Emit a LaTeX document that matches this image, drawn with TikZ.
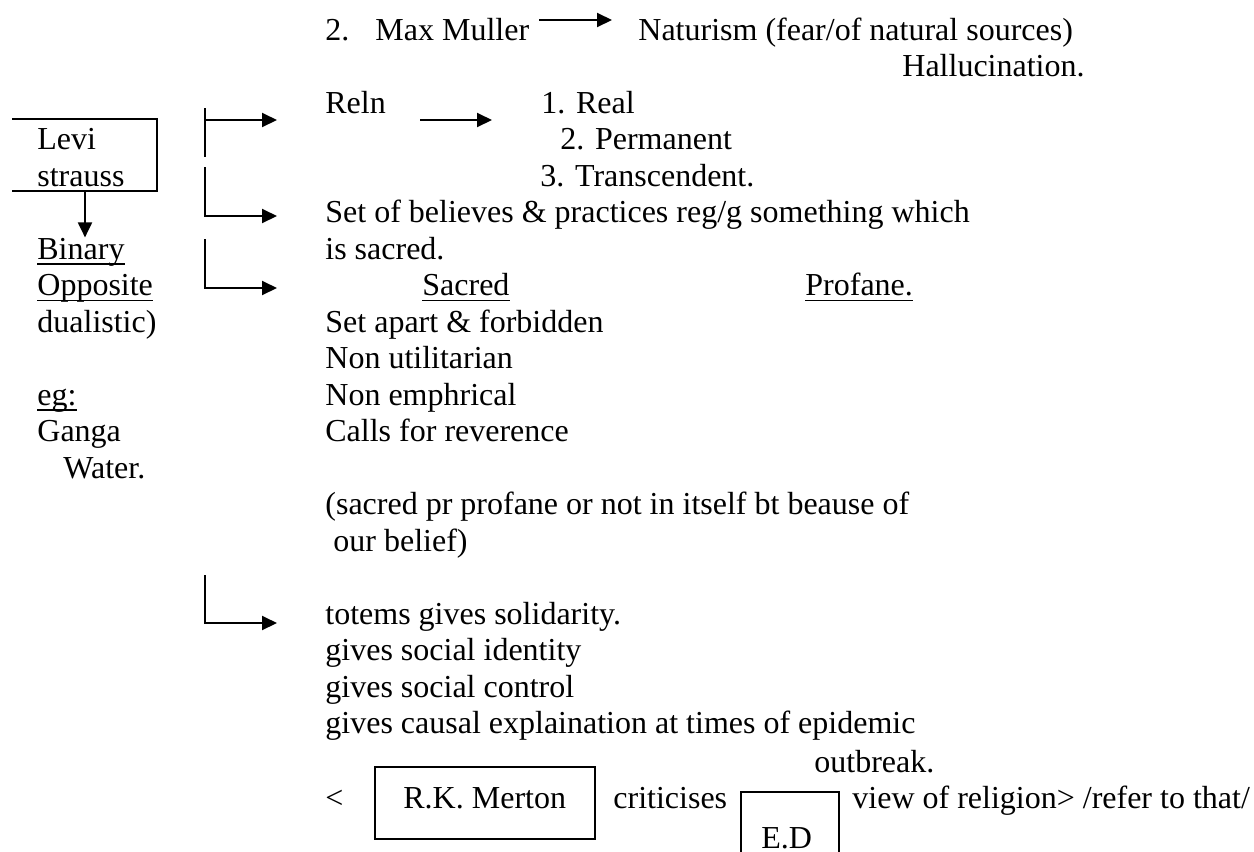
\documentclass[tikz,border=0pt]{standalone}
\usepackage{fontspec}
\setmainfont{Liberation Serif}
\usetikzlibrary{arrows.meta}
\begin{document}
\begin{tikzpicture}[x=0.5pt,y=-0.5pt,
  txt/.style={anchor=base west, inner sep=0pt, font=\fontsize{16pt}{18pt}\selectfont},
  conn/.style={line width=1pt},
  arr/.style={conn, -{Triangle[length=7.5pt,width=7pt]}},
  uline/.style={line width=0.8pt}]
\fill[white] (0,0) rectangle (1254,852);
\useasboundingbox (0,0) rectangle (1254,852);

% top lines
\node[txt] (n2) at (325,40) {2.};
\node[txt] (mm) at (375,40) {Max Muller};
\node[txt] (nat) at (638,40) {Naturism (fear/of natural sources)};
\node[txt] (hal) at (902,76.5) {Hallucination.};
\coordinate (mmA) at (539,20);
\coordinate (mmB) at (612,20);
\draw[arr] (mmA) -- (mmB);

\node[txt] (reln) at (325,113) {Reln};
\node[txt] (real) at (541,113) {1. Real};
\node[txt] (perm) at (560,149.5) {2. Permanent};
\node[txt] (trans) at (540,186) {3. Transcendent.};
\coordinate (rA) at (420,120);
\coordinate (rB) at (492,120);
\draw[arr] (rA) -- (rB);

\node[txt] (set) at (325,222.5) {Set of believes \& practices reg/g something which};
\node[txt] (issac) at (325,259) {is sacred.};
\node[txt] (sac) at (422,295.5) {Sacred};
\node[txt] (prof) at (805,295.5) {Profane.};
\node[txt] (sa1) at (325,332) {Set apart \& forbidden};
\node[txt] (sa2) at (325,368.5) {Non utilitarian};
\node[txt] (sa3) at (325,405) {Non emphrical};
\node[txt] (sa4) at (325,441.5) {Calls for reverence};
\node[txt] (par1) at (325,514.5) {(sacred pr profane or not in itself bt beause of};
\node[txt] (par2) at (333,551) {our belief)};
\node[txt] (tot1) at (325,624) {totems gives solidarity.};
\node[txt] (tot2) at (325,660.5) {gives social identity};
\node[txt] (tot3) at (325,697) {gives social control};
\node[txt] (tot4) at (325,733.5) {gives causal explaination at times of epidemic};
\node[txt] (tot5) at (814,772) {outbreak.};

% bottom row
\node[txt] (lt) at (325,808) {<};
\node[txt] (rkm) at (403,808) {R.K. Merton};
\node[txt] (crit) at (613,808) {criticises};
\node[txt] (ed) at (761,848) {E.D};
\node[txt] (view) at (852,808) {view of religion> /refer to that/};
\draw[conn] (375,767) rectangle (595,839);
\coordinate (edBL) at (741,852);
\coordinate (edTL) at (741,792);
\coordinate (edTR) at (839,792);
\coordinate (edBR) at (839,852);
\draw[conn] (edBL) -- (edTL) -- (edTR) -- (edBR);

% left column
\node[txt] (levi) at (37,149.5) {Levi};
\node[txt] (str) at (37,186) {strauss};
\node[txt] (bin) at (37,259) {Binary};
\node[txt] (opp) at (37,295.5) {Opposite};
\node[txt] (dual) at (37,332) {dualistic)};
\node[txt] (eg) at (37,405) {eg:};
\node[txt] (gan) at (37,441.5) {Ganga};
\node[txt] (wat) at (63,478) {Water.};

\coordinate (lbTL) at (12,119);
\coordinate (lbTR) at (157,119);
\coordinate (lbBR) at (157,191);
\coordinate (lbBL) at (12,191);
\draw[conn] (lbTL) -- (lbTR) -- (lbBR) -- (lbBL);
\coordinate (lbA) at (85,191);
\draw[arr] (lbA) -- (lbA |- bin.north);

% brackets
\coordinate (b1t) at (205,108);
\coordinate (b1b) at (205,157);
\coordinate (b1m) at (205,120);
\coordinate (b1e) at (277,120);
\draw[conn] (b1t) -- (b1b);
\draw[arr] (b1m) -- (b1e);
\coordinate (b2t) at (205,167);
\coordinate (b2c) at (205,216);
\coordinate (b2e) at (277,216);
\draw[arr] (b2t) -- (b2c) -- (b2e);
\coordinate (b3t) at (205,239);
\coordinate (b3c) at (205,288);
\coordinate (b3e) at (277,288);
\draw[arr] (b3t) -- (b3c) -- (b3e);
\coordinate (b4t) at (205,575);
\coordinate (b4c) at (205,623);
\coordinate (b4e) at (277,623);
\draw[arr] (b4t) -- (b4c) -- (b4e);

% underlines
\foreach \n in {bin,opp,eg,sac,prof}
  \draw[uline] ([yshift=-2.5pt]\n.base west) -- ([yshift=-2.5pt]\n.base east);
\end{tikzpicture}
\end{document}
